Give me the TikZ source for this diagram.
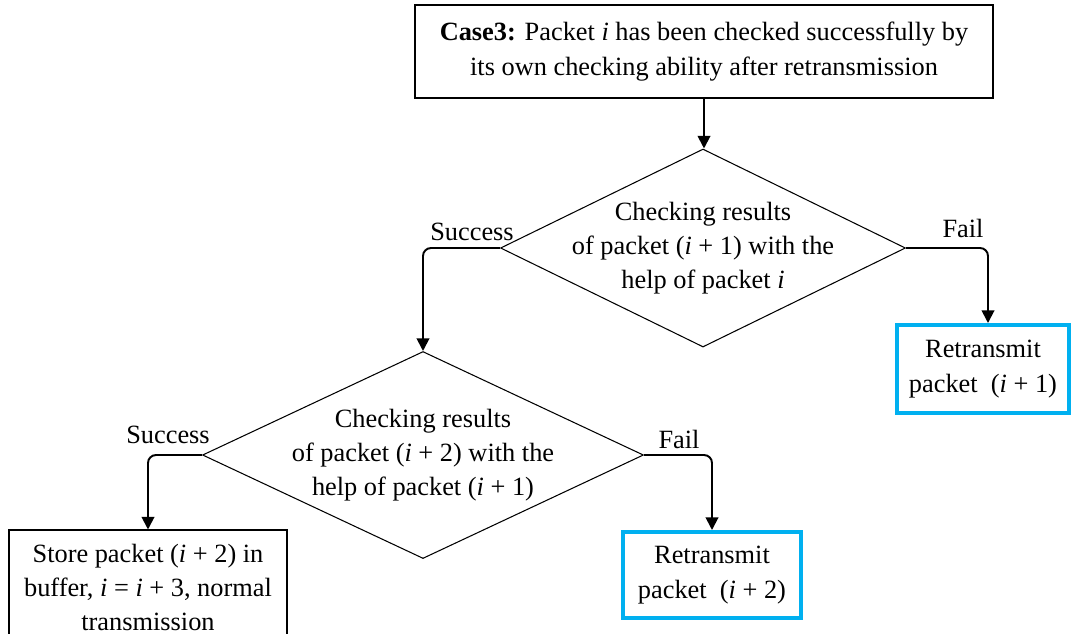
\documentclass[tikz,border=0pt]{standalone}
\usepackage{fontspec}
\setmainfont{Liberation Serif}
\usetikzlibrary{arrows.meta,shapes.geometric}
\definecolor{boxblue}{RGB}{0,176,240}
\newcommand{\vi}{\textit{i}}
\tikzset{
  plainbox/.style={rectangle,draw,line width=0.6pt,align=center,inner sep=0pt},
  bluebox/.style={rectangle,draw=boxblue,line width=2.3pt,align=center,inner sep=0pt},
  decide/.style={diamond,draw,line width=0.6pt,inner sep=0pt},
  flow/.style={-{Triangle[length=0.25cm,width=0.25cm]},line width=1.1pt,rounded corners=0.16cm},
}
\begin{document}
\begin{tikzpicture}[every node/.style={font=\fontsize{15}{19.5}\selectfont}]
    \useasboundingbox (0,0) rectangle (21.42,-12.66);
    \clip (0,0) rectangle (21.42,-12.66);

    % boxes and decisions
    \node[plainbox,minimum width=11.56cm,minimum height=1.86cm] (case) at (14.08,-1.03)
        {\textbf{Case3:} Packet \vi{} has been checked successfully by\\its own checking ability after retransmission};
    \node[decide,minimum width=8.1cm,minimum height=3.96cm] (chk1) at (14.06,-4.96) {};
    \node[align=center] (chk1txt) at (chk1) {Checking results\\of packet (\vi{} + 1) with the\\help of packet \vi};
    \node[bluebox,minimum width=3.44cm,minimum height=1.76cm] (retx1) at (19.66,-7.38)
        {Retransmit\\packet\ \ (\vi{} + 1)};
    \node[decide,minimum width=8.82cm,minimum height=4.14cm] (chk2) at (8.46,-9.10) {};
    \node[align=center] (chk2txt) at (chk2) {Checking results\\of packet (\vi{} + 2) with the\\help of packet (\vi{} + 1)};
    \node[plainbox,minimum width=5.56cm,minimum height=2.3cm] (store) at (2.96,-11.75)
        {Store packet (\vi{} + 2) in\\buffer, \vi{} = \vi{} + 3, normal\\transmission};
    \node[bluebox,minimum width=3.56cm,minimum height=1.72cm] (retx2) at (14.24,-11.5)
        {Retransmit\\packet\ \ (\vi{} + 2)};

    % branch labels
    \node (ok1) at (9.44,-4.64) {Success};
    \node (no1) at (19.26,-4.56) {Fail};
    \node (ok2) at (3.36,-8.70) {Success};
    \node (no2) at (13.58,-8.78) {Fail};

    % connectors
    \draw[flow] (case.south) -- (case.south |- chk1.north);
    \draw[flow] (chk1.west) -| (chk2.north);
    \draw[flow] (chk1.east) -| ([xshift=0.1cm]retx1.north);
    \draw[flow] (chk2.west) -| (store.north);
    \draw[flow] (chk2.east) -| (retx2.north);
\end{tikzpicture}
\end{document}
